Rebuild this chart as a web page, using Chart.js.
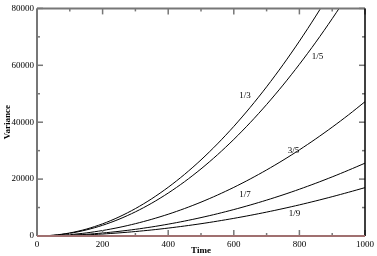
<!DOCTYPE html>
<html>
<head>
<meta charset="utf-8">
<script src="https://cdn.jsdelivr.net/npm/chart.js@4.4.1/dist/chart.umd.min.js"></script>
<style>
  html, body { margin: 0; padding: 0; background: #fff; }
  #varianceChart { display: block; }
</style>
</head>
<body>
<canvas id="varianceChart" width="377" height="256"></canvas>
<script>
// time samples (x) and the variance
const times = [0, 50, 100, 150, 200, 250, 300, 350, 400, 450, 500, 550, 600, 650, 700, 750, 800, 850, 900, 950, 1000];
const oneThird = [0, 270, 1070, 2410, 4280, 6690, 9630, 13110, 17120, 21670, 26750, 32370, 38520, 45210, 52430, 60190, 68480, 77310, 86670, 96570, 107000];
const oneFifth = [0, 236, 943, 2120, 3770, 5890, 8490, 11550, 15090, 19100, 23580, 28530, 33950, 39840, 46210, 53040, 60350, 68130, 76380, 85110, 94300];
const threeFifths = [0, 120, 480, 1080, 1930, 3010, 4330, 5880, 7650, 9660, 11900, 14380, 17090, 20040, 23220, 26630, 30270, 34150, 38260, 42600, 47200];
const oneSeventh = [0, 66, 264, 593, 1050, 1640, 2350, 3190, 4160, 5250, 6470, 7820, 9290, 10890, 12610, 14460, 16440, 18550, 20780, 23140, 25600];
const oneNinth = [0, 44, 176, 395, 700, 1090, 1570, 2130, 2780, 3510, 4320, 5220, 6200, 7260, 8400, 9630, 10940, 12340, 13820, 15380, 17000];

const xTicks = [0, 200, 400, 600, 800, 1000];
const xMinorTicks = [100, 300, 500, 700, 900];
const yTicks = [0, 20000, 40000, 60000, 80000];
const yMinorTicks = [10000, 30000, 50000, 70000];

const curveLabels = [
  { text: '1/3', x: 634, y: 49300 },
  { text: '1/5', x: 855, y: 63100 },
  { text: '3/5', x: 782, y: 30000 },
  { text: '1/7', x: 634, y: 14500 },
  { text: '1/9', x: 785, y: 7900 }
];

const serif = '"Liberation Serif", "DejaVu Serif", serif';

function toPoints(values) {
  return values.map((v, i) => ({ x: times[i], y: v }));
}

function makeSet(label, values) {
  return {
    label: label,
    data: toPoints(values),
    borderColor: '#000',
    borderWidth: 1,
    pointRadius: 0,
    fill: false,
    tension: 0.3
  };
}

// frame + inward ticks on all four sides, and the curve labels
const framePlugin = {
  id: 'frame',
  afterDraw(chart) {
    const { ctx, chartArea: a, scales } = chart;
    const xs = scales.x, ys = scales.y;
    ctx.save();

    ctx.strokeStyle = '#777';
    ctx.lineWidth = 1.5;
    const tick = (x1, y1, x2, y2) => {
      ctx.beginPath();
      ctx.moveTo(x1, y1);
      ctx.lineTo(x2, y2);
      ctx.stroke();
    };
    xTicks.forEach(v => {
      const px = xs.getPixelForValue(v);
      tick(px, a.bottom, px, a.bottom - 6);
      tick(px, a.top, px, a.top + 6);
    });
    xMinorTicks.forEach(v => {
      const px = xs.getPixelForValue(v);
      tick(px, a.bottom, px, a.bottom - 3);
      tick(px, a.top, px, a.top + 3);
    });
    yTicks.forEach(v => {
      const py = ys.getPixelForValue(v);
      tick(a.left, py, a.left + 6, py);
      tick(a.right, py, a.right - 6, py);
    });
    yMinorTicks.forEach(v => {
      const py = ys.getPixelForValue(v);
      tick(a.left, py, a.left + 3, py);
      tick(a.right, py, a.right - 3, py);
    });

    // frame sides
    ctx.lineWidth = 2;
    ctx.strokeStyle = '#777';
    tick(a.left, a.top, a.right, a.top);
    tick(a.left, a.top, a.left, a.bottom);
    ctx.strokeStyle = '#000';
    ctx.lineWidth = 1.5;
    tick(a.right, a.top, a.right, a.bottom);
    ctx.strokeStyle = '#a07070';
    ctx.lineWidth = 2;
    tick(a.left, a.bottom, a.right, a.bottom);

    ctx.fillStyle = '#000';
    ctx.font = '9px ' + serif;
    ctx.textAlign = 'center';
    ctx.textBaseline = 'middle';
    curveLabels.forEach(l => {
      ctx.fillText(l.text, xs.getPixelForValue(l.x), ys.getPixelForValue(l.y));
    });
    ctx.restore();
  }
};

new Chart(document.getElementById('varianceChart').getContext('2d'), {
  type: 'line',
  data: {
    datasets: [
      makeSet('1/3', oneThird),
      makeSet('1/5', oneFifth),
      makeSet('3/5', threeFifths),
      makeSet('1/7', oneSeventh),
      makeSet('1/9', oneNinth)
    ]
  },
  options: {
    responsive: false,
    animation: false,
    layout: { padding: { top: 4, right: 9, bottom: 0, left: 0 } },
    plugins: {
      legend: { display: false },
      tooltip: { enabled: false }
    },
    scales: {
      x: {
        type: 'linear',
        min: 0,
        max: 1000,
        afterBuildTicks: s => { s.ticks = xTicks.map(v => ({ value: v })); },
        afterFit: s => { s.height = 20; },
        grid: { display: false, drawTicks: false },
        border: { display: false },
        ticks: {
          padding: 3,
          color: '#000',
          maxRotation: 0,
          font: { family: serif, size: 9 },
          callback: v => String(v)
        },
        title: {
          display: true,
          text: 'Time',
          color: '#000',
          padding: 0,
          font: { family: serif, size: 9, weight: 'bold' }
        }
      },
      y: {
        min: 0,
        max: 80000,
        afterBuildTicks: s => { s.ticks = yTicks.map(v => ({ value: v })); },
        afterFit: s => { s.width = 37; },
        grid: { display: false, drawTicks: false },
        border: { display: false },
        ticks: {
          padding: 3,
          color: '#000',
          font: { family: serif, size: 9 },
          callback: v => String(v)
        },
        title: {
          display: true,
          text: 'Variance',
          color: '#000',
          padding: { top: 2, bottom: 0 },
          font: { family: serif, size: 9, weight: 'bold' }
        }
      }
    }
  },
  plugins: [framePlugin]
});
</script>
</body>
</html>
